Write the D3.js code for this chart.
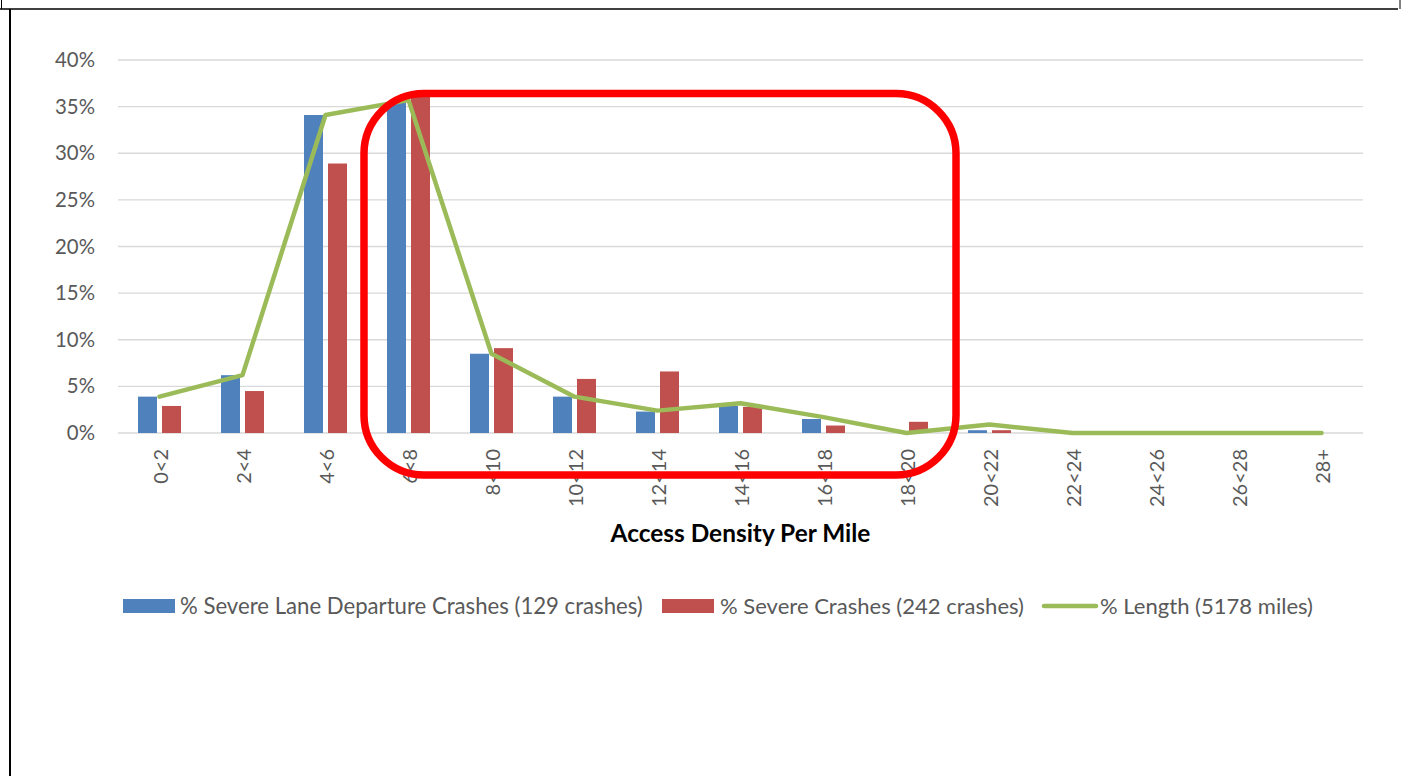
<!DOCTYPE html>
<html>
<head>
<meta charset="utf-8">
<script src="https://cdn.jsdelivr.net/npm/d3@7"></script>
<style>
  html, body { margin: 0; padding: 0; background: #fff; }
  svg { display: block; }
  text { font-family: Lato, "Open Sans", "Liberation Sans", sans-serif; }
</style>
</head>
<body>
<svg id="chart" width="1403" height="776"></svg>
<script>
// ---- data ----
const categories = ["0<2","2<4","4<6","6<8","8<10","10<12","12<14","14<16","16<18","18<20","20<22","22<24","24<26","26<28","28+"];
const laneDeparture = [0.039, 0.062, 0.341, 0.355, 0.085, 0.039, 0.023, 0.029, 0.015, 0.000, 0.003, 0, 0, 0, 0];
const severeCrashes = [0.029, 0.045, 0.289, 0.366, 0.091, 0.058, 0.066, 0.028, 0.008, 0.012, 0.003, 0, 0, 0, 0];
const lengthPct     = [0.039, 0.062, 0.341, 0.357, 0.085, 0.039, 0.024, 0.032, 0.017, 0.000, 0.009, 0, 0, 0, 0];
const yTicks = [0, 0.05, 0.10, 0.15, 0.20, 0.25, 0.30, 0.35, 0.40];
const seriesNames = ["% Severe Lane Departure Crashes (129 crashes)", "% Severe Crashes (242 crashes)", "% Length (5178 miles)"];
const colors = { blue: "#4f81bd", red: "#c0504d", green: "#9bbb59" };

const svg = d3.select("#chart");

// scale a text's font size so that its rendered width matches the target
function fitWidth(sel, target) {
  const node = sel.node();
  const base = parseFloat(sel.style("font-size"));
  const len = node.getComputedTextLength();
  if (len > 0) sel.style("font-size", (base * target / len).toFixed(2) + "px");
}

// page/table borders
svg.append("line").attr("x1", 0).attr("x2", 1398).attr("y1", 9).attr("y2", 9).attr("stroke", "#000").attr("stroke-width", 1.6);
svg.append("line").attr("x1", 10).attr("x2", 10).attr("y1", 9).attr("y2", 776).attr("stroke", "#000").attr("stroke-width", 2);
svg.append("line").attr("x1", 1.5).attr("x2", 1.5).attr("y1", 0).attr("y2", 9).attr("stroke", "#000").attr("stroke-width", 1);
svg.append("line").attr("x1", 1400).attr("x2", 1400).attr("y1", 0).attr("y2", 9).attr("stroke", "#000").attr("stroke-width", 1);

const plot = { left: 118, right: 1363, top: 60, bottom: 433 };

const x = d3.scaleBand().domain(categories).range([plot.left, plot.right]).padding(0);
const y = d3.scaleLinear().domain([0, 0.4]).range([plot.bottom, plot.top]);
const groupW = 43;
const xSub = d3.scaleBand().domain(["lane", "severe"]).range([0, groupW]).paddingInner(5 / 24);
const groupOff = (x.bandwidth() - groupW) / 2;

// gridlines
svg.append("g").selectAll("line").data(yTicks).join("line")
  .attr("x1", plot.left).attr("x2", plot.right)
  .attr("y1", d => y(d)).attr("y2", d => y(d))
  .attr("stroke", "#d9d9d9").attr("stroke-width", 1.3);

// y axis labels
const yAxis = d3.axisLeft(y).tickValues(yTicks).tickFormat(d3.format(".0%")).tickSize(0).tickPadding(0);
const gy = svg.append("g").attr("transform", `translate(95,0)`).call(yAxis);
gy.select(".domain").remove();
gy.selectAll("text").attr("fill", "#595959").style("font-size", "17px")
  .style("font-family", "Lato, 'Open Sans', sans-serif");
{
  const t = gy.selectAll("text").filter(d => d === 0.4);
  fitWidth(t, 40);
  gy.selectAll("text").style("font-size", t.style("font-size"));
}

// bars
svg.append("g").selectAll("rect").data(categories).join("rect")
  .attr("x", d => x(d) + groupOff + xSub("lane"))
  .attr("width", xSub.bandwidth())
  .attr("y", (d, i) => y(laneDeparture[i]))
  .attr("height", (d, i) => y(0) - y(laneDeparture[i]))
  .attr("fill", colors.blue);
svg.append("g").selectAll("rect").data(categories).join("rect")
  .attr("x", d => x(d) + groupOff + xSub("severe"))
  .attr("width", xSub.bandwidth())
  .attr("y", (d, i) => y(severeCrashes[i]))
  .attr("height", (d, i) => y(0) - y(severeCrashes[i]))
  .attr("fill", colors.red);

// line
const line = d3.line().x((d, i) => x(categories[i]) + x.bandwidth() / 2).y(d => y(d));
svg.append("path").datum(lengthPct).attr("d", line)
  .attr("fill", "none").attr("stroke", colors.green).attr("stroke-width", 4.5)
  .attr("stroke-linejoin", "round").attr("stroke-linecap", "round");

// x axis labels
const xAxis = d3.axisBottom(x).tickSize(0).tickPadding(0);
const gx = svg.append("g").attr("transform", `translate(0,${plot.bottom})`).call(xAxis);
gx.select(".domain").remove();
gx.selectAll("text")
  .attr("transform", "rotate(-90)")
  .attr("text-anchor", "end")
  .attr("x", -16).attr("y", 1).attr("dy", "0.35em")
  .attr("fill", "#595959").style("font-size", "17px")
  .style("font-family", "Lato, 'Open Sans', sans-serif");
{
  const t = gx.selectAll("text").filter(d => d === "10<12");
  fitWidth(t, 58);
  gx.selectAll("text").style("font-size", t.style("font-size"));
}

// axis title
const title = svg.append("text").attr("x", (plot.left + plot.right) / 2).attr("y", 542)
  .attr("text-anchor", "middle").attr("font-weight", "bold").style("font-size", "20px").attr("fill", "#000")
  .text("Access Density Per Mile");
fitWidth(title, 260);

// annotation rounded rectangle
const rx0 = x(categories[3]) - 3, rx1 = x(categories[10]) + 8;
const ry0 = y(0.364), ry1 = y(0) + 42;
svg.append("rect").attr("x", rx0).attr("y", ry0).attr("width", rx1 - rx0).attr("height", ry1 - ry0)
  .attr("rx", 60).attr("ry", 60)
  .attr("fill", "none").attr("stroke", "#ff0000").attr("stroke-width", 7.5);

// legend
const legY = 606;
const leg = svg.append("g");
const legItems = [
  { name: seriesNames[0], type: "rect", color: colors.blue, sx: 123, tx: 180, w: 463 },
  { name: seriesNames[1], type: "rect", color: colors.red, sx: 662, tx: 720, w: 304 },
  { name: seriesNames[2], type: "line", color: colors.green, sx: 1042, tx: 1100, w: 213 }
];
legItems.forEach(it => {
  if (it.type === "rect") {
    leg.append("rect").attr("x", it.sx).attr("y", legY - 7).attr("width", 52).attr("height", 14).attr("fill", it.color);
  } else {
    leg.append("line").attr("x1", it.sx + 2).attr("x2", it.sx + 54).attr("y1", legY).attr("y2", legY)
      .attr("stroke", it.color).attr("stroke-width", 4.5).attr("stroke-linecap", "round");
  }
  const t = leg.append("text").attr("x", it.tx).attr("y", legY).attr("dy", "0.35em")
    .attr("fill", "#595959").style("font-size", "18px").text(it.name);
  fitWidth(t, it.w);
});
</script>
</body>
</html>
